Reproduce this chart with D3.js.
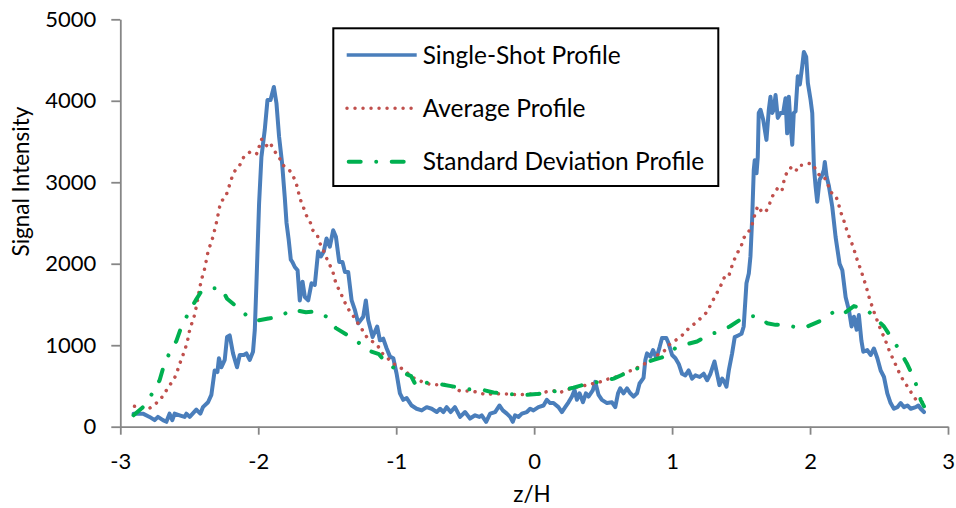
<!DOCTYPE html>
<html><head><meta charset="utf-8">
<script src="https://cdn.jsdelivr.net/npm/d3@7"></script>
<style>
body{margin:0;background:#fff}
svg{display:block}
text{font-family:Lato, "Open Sans", sans-serif; fill:#000}
</style>
</head><body>
<svg id="chart" width="956" height="508"></svg>
<script>
// ---------- data ----------
const xTickValues = [-3, -2, -1, 0, 1, 2, 3];
const yTickValues = [0, 1000, 2000, 3000, 4000, 5000];
const xLabel = "z/H";
const yLabel = "Signal Intensity";
const seriesNames = ["Single-Shot Profile", "Average Profile", "Standard Deviation Profile"];

// [z/H, signal]
const singleShot = [[-2.904,160],[-2.836,160],[-2.788,120],[-2.751,80],[-2.727,120],[-2.691,80],[-2.666,60],[-2.643,160],[-2.623,80],[-2.606,160],[-2.570,140],[-2.534,120],[-2.521,160],[-2.497,120],[-2.449,210],[-2.420,160],[-2.401,240],[-2.364,300],[-2.340,390],[-2.316,690],[-2.296,670],[-2.285,840],[-2.267,730],[-2.243,820],[-2.226,1100],[-2.207,1120],[-2.183,900],[-2.154,730],[-2.134,880],[-2.105,880],[-2.086,900],[-2.062,820],[-2.038,920],[-2.025,1190],[-2.013,1760],[-1.994,2740],[-1.977,3310],[-1.953,3640],[-1.933,4010],[-1.911,4010],[-1.887,4170],[-1.868,3970],[-1.849,3560],[-1.827,3230],[-1.808,2820],[-1.795,2500],[-1.779,2290],[-1.764,2050],[-1.752,2020],[-1.735,1960],[-1.715,1920],[-1.699,1550],[-1.679,1780],[-1.662,1590],[-1.638,1550],[-1.614,1760],[-1.590,1740],[-1.566,2150],[-1.546,2090],[-1.525,2150],[-1.505,2310],[-1.481,2210],[-1.457,2410],[-1.437,2330],[-1.413,2020],[-1.389,2020],[-1.372,1900],[-1.348,1900],[-1.323,1550],[-1.299,1430],[-1.275,1270],[-1.239,1350],[-1.220,1550],[-1.203,1310],[-1.171,1100],[-1.138,1230],[-1.118,1060],[-1.094,1080],[-1.069,960],[-1.045,860],[-1.021,840],[-0.997,650],[-0.973,410],[-0.949,330],[-0.924,350],[-0.888,260],[-0.852,220],[-0.815,200],[-0.779,240],[-0.743,220],[-0.706,180],[-0.682,220],[-0.658,180],[-0.634,240],[-0.605,180],[-0.574,240],[-0.537,120],[-0.501,180],[-0.465,100],[-0.428,140],[-0.397,120],[-0.380,140],[-0.348,60],[-0.319,160],[-0.283,180],[-0.252,260],[-0.227,200],[-0.198,160],[-0.174,120],[-0.155,60],[-0.138,140],[-0.114,120],[-0.089,160],[-0.053,180],[-0.029,220],[-0.005,200],[0.031,240],[0.068,260],[0.092,330],[0.116,290],[0.140,290],[0.176,240],[0.201,180],[0.225,240],[0.249,300],[0.274,370],[0.293,450],[0.310,330],[0.329,410],[0.354,300],[0.375,410],[0.394,370],[0.426,450],[0.443,550],[0.467,390],[0.491,330],[0.528,290],[0.564,300],[0.588,240],[0.608,410],[0.624,470],[0.648,410],[0.673,470],[0.697,410],[0.721,370],[0.746,410],[0.764,530],[0.793,600],[0.806,820],[0.818,900],[0.842,860],[0.862,940],[0.886,840],[0.910,980],[0.927,1090],[0.958,1090],[0.975,1020],[1.000,880],[1.024,840],[1.048,770],[1.072,650],[1.096,630],[1.120,690],[1.145,590],[1.169,630],[1.200,610],[1.229,650],[1.254,570],[1.278,650],[1.307,800],[1.326,650],[1.343,510],[1.363,590],[1.379,550],[1.394,490],[1.411,690],[1.435,900],[1.454,1100],[1.479,1120],[1.503,1140],[1.519,1230],[1.539,1760],[1.556,1880],[1.568,2090],[1.580,2540],[1.592,3150],[1.599,3270],[1.612,3110],[1.621,3310],[1.628,3850],[1.641,3890],[1.660,3770],[1.684,3520],[1.701,3890],[1.713,4050],[1.726,3850],[1.737,3890],[1.750,4070],[1.766,3790],[1.786,3850],[1.805,3850],[1.822,4030],[1.834,3600],[1.846,4050],[1.858,3720],[1.871,3460],[1.882,3850],[1.895,3870],[1.911,4300],[1.926,4200],[1.943,4420],[1.955,4600],[1.972,4540],[1.984,4220],[2.004,4010],[2.016,3850],[2.028,3190],[2.040,2950],[2.052,2760],[2.069,3030],[2.083,3070],[2.100,3150],[2.107,3250],[2.120,3070],[2.137,2950],[2.161,2700],[2.185,2330],[2.214,2000],[2.234,1920],[2.258,1590],[2.282,1430],[2.301,1230],[2.318,1350],[2.338,1190],[2.354,1370],[2.372,1060],[2.386,920],[2.415,940],[2.439,880],[2.463,960],[2.488,840],[2.512,690],[2.536,610],[2.560,410],[2.584,290],[2.608,220],[2.633,240],[2.657,290],[2.681,240],[2.706,260],[2.730,220],[2.766,240],[2.785,260],[2.802,220],[2.826,180]];

const average = [[-2.897,250],[-2.793,220],[-2.744,280],[-2.703,350],[-2.672,430],[-2.642,510],[-2.611,580],[-2.589,670],[-2.570,770],[-2.550,860],[-2.531,950],[-2.514,1040],[-2.502,1150],[-2.490,1230],[-2.468,1330],[-2.454,1430],[-2.413,1800],[-2.394,1900],[-2.381,2000],[-2.372,2090],[-2.357,2190],[-2.338,2270],[-2.323,2370],[-2.309,2460],[-2.296,2560],[-2.285,2660],[-2.272,2760],[-2.236,2820],[-2.219,2910],[-2.200,3010],[-2.183,3100],[-2.158,3170],[-2.134,3210],[-2.105,3310],[-2.054,3380],[-2.009,3350],[-1.977,3530],[-1.940,3450],[-1.916,3490],[-1.897,3430],[-1.873,3360],[-1.849,3310],[-1.827,3220],[-1.771,3140],[-1.740,3050],[-1.718,2950],[-1.706,2860],[-1.691,2770],[-1.670,2680],[-1.650,2590],[-1.621,2500],[-1.604,2410],[-1.573,2360],[-1.559,2270],[-1.532,2180],[-1.490,2010],[-1.461,1920],[-1.450,1830],[-1.432,1740],[-1.408,1660],[-1.384,1570],[-1.360,1480],[-1.331,1400],[-1.299,1330],[-1.263,1230],[-1.234,1160],[-1.210,1090],[-1.167,1040],[-1.135,1000],[-1.107,910],[-1.070,855],[-1.027,780],[-0.975,730],[-0.937,690],[-0.888,610],[-0.804,545],[-0.743,515],[-0.685,515],[-0.634,520],[-0.590,490],[-0.540,440],[-0.495,440],[-0.430,430],[-0.343,390],[-0.290,410],[-0.234,400],[-0.174,400],[-0.121,390],[-0.053,400],[0.038,400],[0.092,430],[0.140,440],[0.189,420],[0.281,480],[0.329,490],[0.377,510],[0.430,530],[0.478,550],[0.523,580],[0.576,600],[0.624,630],[0.673,670],[0.733,710],[0.782,760],[0.842,800],[0.895,880],[0.951,940],[0.987,1020],[1.024,1060],[1.060,1100],[1.096,1160],[1.132,1230],[1.169,1270],[1.212,1340],[1.249,1400],[1.278,1490],[1.302,1570],[1.331,1660],[1.355,1740],[1.374,1820],[1.394,1860],[1.411,1850],[1.443,2020],[1.472,2130],[1.501,2210],[1.515,2310],[1.549,2370],[1.580,2480],[1.592,2560],[1.621,2710],[1.653,2630],[1.675,2630],[1.701,2700],[1.718,2800],[1.742,2870],[1.774,2950],[1.798,2910],[1.810,3010],[1.827,3100],[1.858,3180],[1.895,3130],[1.919,3210],[1.955,3210],[1.991,3230],[2.023,3220],[2.047,3130],[2.076,3070],[2.100,3070],[2.124,3000],[2.148,2880],[2.185,2840],[2.204,2750],[2.221,2640],[2.241,2550],[2.258,2460],[2.274,2370],[2.294,2290],[2.314,2200],[2.330,2110],[2.347,2020],[2.367,1930],[2.386,1830],[2.403,1740],[2.420,1640],[2.434,1550],[2.454,1460],[2.471,1370],[2.492,1280],[2.512,1190],[2.536,1100],[2.560,1000],[2.579,910],[2.608,810],[2.633,710],[2.657,630],[2.681,550],[2.717,470],[2.742,390],[2.773,320],[2.826,290]];

const stdDev = [[-2.904,140],[-2.836,240],[-2.771,400],[-2.715,570],[-2.691,710],[-2.648,890],[-2.594,1050],[-2.565,1190],[-2.514,1370],[-2.454,1550],[-2.413,1660],[-2.357,1700],[-2.267,1700],[-2.226,1570],[-2.147,1460],[-2.074,1350],[-2.013,1300],[-1.917,1330],[-1.832,1360],[-1.759,1440],[-1.655,1405],[-1.578,1415],[-1.505,1350],[-1.437,1210],[-1.360,1130],[-1.292,1060],[-1.210,940],[-1.125,890],[-1.082,800],[-0.997,700],[-0.892,620],[-0.852,490],[-0.779,540],[-0.658,515],[-0.592,495],[-0.477,460],[-0.368,450],[-0.295,420],[-0.179,400],[-0.065,390],[0.019,400],[0.128,430],[0.237,460],[0.285,480],[0.394,530],[0.503,560],[0.576,590],[0.668,660],[0.770,730],[0.796,760],[0.830,800],[0.866,820],[0.927,850],[1.024,965],[1.066,995],[1.181,1045],[1.278,1140],[1.338,1160],[1.418,1230],[1.508,1330],[1.525,1350],[1.621,1360],[1.689,1270],[1.750,1250],[1.815,1250],[1.931,1210],[1.980,1230],[2.076,1300],[2.173,1410],[2.209,1430],[2.245,1390],[2.318,1480],[2.415,1430],[2.463,1350],[2.536,1230],[2.633,980],[2.701,780],[2.754,590],[2.778,470],[2.802,330],[2.826,250]];

// ---------- styles ----------
const seriesStyles = [
  {color:"#4A7EBB", width:4, dash:null},
  {color:"#C0504D", width:3.5, dash:"0.01 8"},
  {color:"#00B050", width:4, dash:"12 15.5 0.01 15.5"}
];
const axisColor = "#868686";
const numFont = "'Open Sans', Lato, sans-serif";

// ---------- chart ----------
const svg = d3.select("#chart");
const x = d3.scaleLinear().domain([-3, 3]).range([120.3, 948]);
const y = d3.scaleLinear().domain([0, 5000]).range([426.7, 19.3]);

const xAxis = svg.append("g").attr("transform", `translate(0,${y(0)})`)
  .call(d3.axisBottom(x).tickValues(xTickValues).tickSize(8).tickSizeOuter(0).tickPadding(19).tickFormat(d3.format("d")));
const yAxis = svg.append("g").attr("transform", `translate(${x(-3)},0)`)
  .call(d3.axisLeft(y).tickValues(yTickValues).tickSize(9).tickSizeOuter(0).tickPadding(15).tickFormat(d3.format("d")));
[xAxis, yAxis].forEach(g => {
  g.select(".domain").attr("stroke", axisColor).attr("stroke-width", 1.8);
  g.selectAll(".tick line").attr("stroke", axisColor).attr("stroke-width", 1.8);
  g.selectAll(".tick text").attr("font-size", 22).attr("font-family", numFont).attr("fill", "#000");
});
xAxis.selectAll(".tick text").text(d => d < 0 ? "-" + Math.abs(d) : d);

svg.append("text").attr("x", 532).attr("y", 501.5).attr("text-anchor", "middle")
  .attr("font-size", 22.5).text(xLabel);
svg.append("text").attr("transform", "translate(28.5,181.5) rotate(-90)").attr("text-anchor", "middle")
  .attr("font-size", 22.5).text(yLabel);

const line = d3.line().x(d => x(d[0])).y(d => y(d[1]));
[singleShot, average, stdDev].forEach((data, i) => {
  const s = seriesStyles[i];
  svg.append("path").datum(data).attr("d", line)
    .attr("fill", "none").attr("stroke", s.color).attr("stroke-width", s.width)
    .attr("stroke-linejoin", "round").attr("stroke-linecap", "round")
    .attr("stroke-dasharray", s.dash);
});

// legend
const lg = svg.append("g");
lg.append("rect").attr("x", 333.3).attr("y", 28.3).attr("width", 385).attr("height", 157.7)
  .attr("fill", "#fff").attr("stroke", "#000").attr("stroke-width", 2);
const rowY = [55, 108.3, 161.7];
seriesNames.forEach((name, i) => {
  const s = seriesStyles[i];
  const x0 = i === 2 ? 348.7 : (i === 1 ? 347 : 346.7);
  lg.append("line").attr("x1", x0).attr("x2", 416.7).attr("y1", rowY[i]).attr("y2", rowY[i])
    .attr("stroke", s.color).attr("stroke-width", i === 0 ? 3.5 : s.width)
    .attr("stroke-linecap", i === 0 ? "butt" : "round")
    .attr("stroke-dasharray", s.dash);
  lg.append("text").attr("x", 422.7).attr("y", rowY[i] + 8.6).attr("font-size", 24.5).text(name);
});
</script>
</body></html>
